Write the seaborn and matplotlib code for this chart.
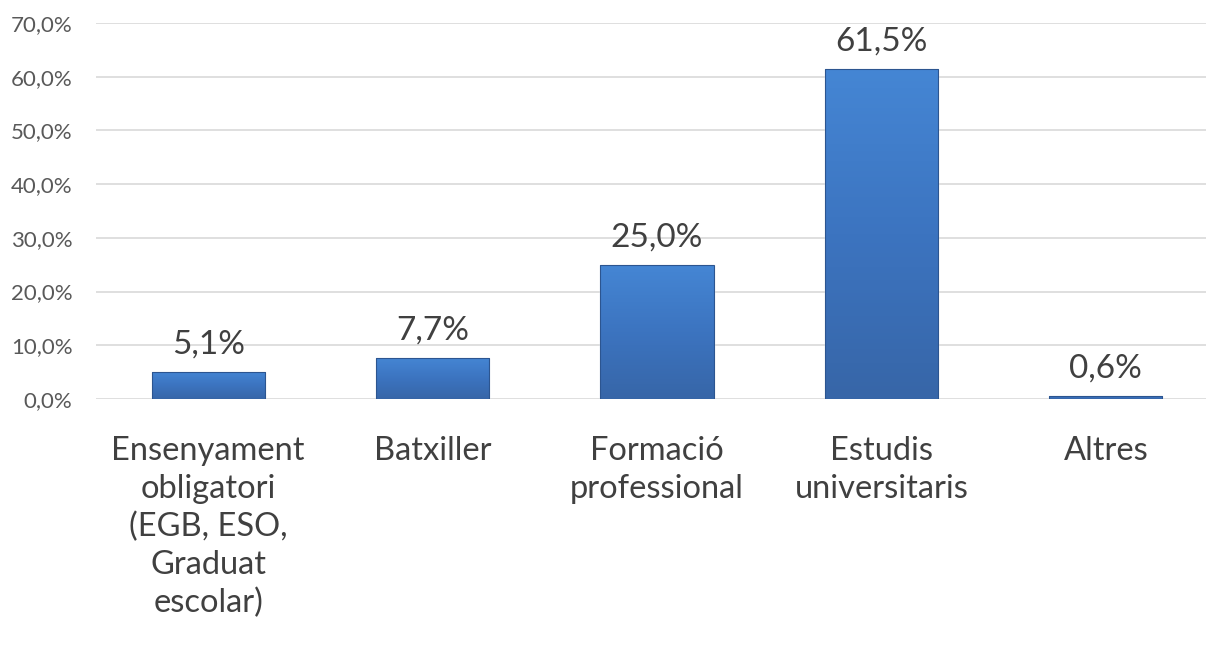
import numpy as np
import pandas as pd
import matplotlib.pyplot as plt
import matplotlib.colors as mcolors
import seaborn as sns

# dades
categories = ["Ensenyament\nobligatori\n(EGB, ESO,\nGraduat\nescolar)",
              "Batxiller",
              "Formació\nprofessional",
              "Estudis\nuniversitaris",
              "Altres"]
values = [5.1, 7.7, 25.0, 61.5, 0.6]
yticks = [0, 10, 20, 30, 40, 50, 60, 70]

df = pd.DataFrame({"cat": categories, "val": values})

sns.set_theme(style="white")
plt.rcParams['font.family'] = ['Lato', 'DejaVu Sans']

fig = plt.figure(figsize=(12.06, 6.49), dpi=100)
ax = fig.add_axes([96 / 1206, 1 - 399 / 649, 1 - 96 / 1206, (399 - 23) / 649])

sns.barplot(data=df, x="cat", y="val", color="#3d78c8", width=0.505,
            saturation=1, ax=ax, zorder=3)

# degradat dins de cada barra
grad = mcolors.LinearSegmentedColormap.from_list(
    "g", ["#3766a8", "#3c74c0", "#4586d4"])
for p in ax.patches:
    x0, y0 = p.get_x(), p.get_y()
    w, h = p.get_width(), p.get_height()
    img = ax.imshow(np.linspace(0, 1, 100).reshape(-1, 1), cmap=grad,
                    aspect="auto", origin="lower",
                    extent=[x0, x0 + w, y0, y0 + h], zorder=4)
    img.set_clip_path(p)
    ax.add_patch(plt.Rectangle((x0, y0), w, h, fill=False,
                               edgecolor="#2c5590", lw=0.8, zorder=5))

for i, v in enumerate(values):
    ax.annotate(f"{v:.1f}%".replace(".", ","), (i, v),
                xytext=(0, 9), textcoords="offset points",
                ha="center", va="bottom", fontsize=24, color="#404040")

ax.set_xlim(-0.5, 4.5 - 12 / 224)
ax.set_ylim(0, 70)
ax.set_yticks(yticks)
ax.set_yticklabels([f"{t:.1f}%".replace(".", ",") for t in yticks])
ax.yaxis.grid(True, color="#d9d9d9", lw=1.2, zorder=0)
ax.set_axisbelow(True)
for s in ax.spines.values():
    s.set_visible(False)
ax.tick_params(axis="y", length=0, pad=17, labelsize=16, labelcolor="#595959")
ax.tick_params(axis="x", length=0, pad=27, labelsize=23.5, labelcolor="#404040")
for lab in ax.get_xticklabels():
    lab.set_linespacing(1.32)
ax.set_xlabel("")
ax.set_ylabel("")

fig.savefig("out.png", dpi=100)
